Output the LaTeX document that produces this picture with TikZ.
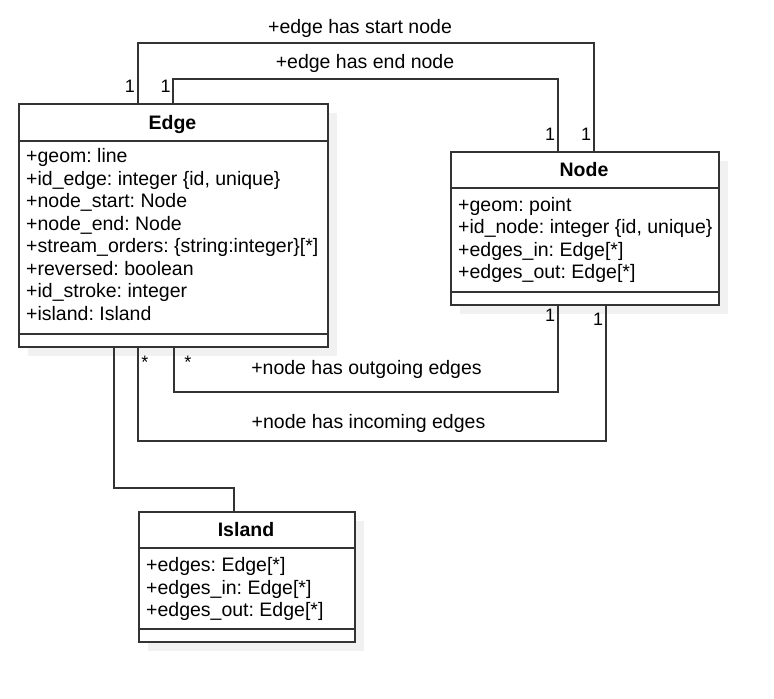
\documentclass[tikz,border=0pt]{standalone}
\usepackage{fontspec}
\setmainfont{Liberation Sans}
\definecolor{linec}{RGB}{51,51,51}
\definecolor{shadowc}{RGB}{241,241,241}
\begin{document}
\frenchspacing
\begin{tikzpicture}[x=1pt,y=-1pt,
  classbox/.style={draw=linec, line width=2pt, fill=white, rectangle, inner sep=0pt, anchor=north west},
  shadowbox/.style={fill=shadowc, draw=none, rectangle, inner sep=0pt, anchor=north west},
  conn/.style={draw=linec, line width=2pt},
  sepline/.style={draw=linec, line width=2pt},
  attr/.style={anchor=base west, inner sep=0pt, font=\fontsize{19.5}{22.5}\selectfont},
  ctitle/.style={anchor=base, inner sep=0pt, font=\fontsize{19.5}{22.5}\selectfont\bfseries},
  lbl/.style={anchor=base, inner sep=0pt, font=\fontsize{19.5}{22.5}\selectfont},
  mult/.style={anchor=base, inner sep=0pt, font=\fontsize{18}{20}\selectfont}]
\useasboundingbox (0,0) rectangle (774,699);

% shadows
\node[shadowbox, minimum width=309, minimum height=243] (edgesh) at (28,113) {};
\node[shadowbox, minimum width=268, minimum height=153] (nodesh) at (460,161) {};
\node[shadowbox, minimum width=216, minimum height=130] (islandsh) at (148,521) {};

% class boxes
\node[classbox, minimum width=309, minimum height=243] (edge) at (18,103) {};
\node[classbox, minimum width=268, minimum height=153] (node) at (450,151) {};
\node[classbox, minimum width=216, minimum height=130] (island) at (138,511) {};

% compartments
\draw[sepline] ([yshift=-38pt]edge.north west) -- ([yshift=-38pt]edge.north east);
\draw[sepline] ([yshift=14pt]edge.south west) -- ([yshift=14pt]edge.south east);
\draw[sepline] ([yshift=-37pt]node.north west) -- ([yshift=-37pt]node.north east);
\draw[sepline] ([yshift=14pt]node.south west) -- ([yshift=14pt]node.south east);
\draw[sepline] ([yshift=-37pt]island.north west) -- ([yshift=-37pt]island.north east);
\draw[sepline] ([yshift=14pt]island.south west) -- ([yshift=14pt]island.south east);

% titles
\node[ctitle] (edgetitle) at (172.5,129.3) {Edge};
\node[ctitle] (nodetitle) at (584,176.7) {Node};
\node[ctitle] (islandtitle) at (246,536.7) {Island};

% Edge attributes
\node[attr] (ea1) at (26,162.7) {+geom: line};
\node[attr] (ea2) at (26,185.2) {+id\_edge: integer \{id, unique\}};
\node[attr] (ea3) at (26,207.7) {+node\_start: Node};
\node[attr] (ea4) at (26,230.2) {+node\_end: Node};
\node[attr] (ea5) at (26,252.7) {+stream\_orders: \{string:integer\}[*]};
\node[attr] (ea6) at (26,275.2) {+reversed: boolean};
\node[attr] (ea7) at (26,297.7) {+id\_stroke: integer};
\node[attr] (ea8) at (26,320.2) {+island: Island};

% Node attributes
\node[attr] (na1) at (458,211) {+geom: point};
\node[attr] (na2) at (458,233.5) {+id\_node: integer \{id, unique\}};
\node[attr] (na3) at (458,256) {+edges\_in: Edge[*]};
\node[attr] (na4) at (458,278.5) {+edges\_out: Edge[*]};

% Island attributes
\node[attr] (ia1) at (146,571.7) {+edges: Edge[*]};
\node[attr] (ia2) at (146,594.2) {+edges\_in: Edge[*]};
\node[attr] (ia3) at (146,616.7) {+edges\_out: Edge[*]};

% connectors
\draw[conn] ([xshift=120pt]edge.north west) -- ++(0,-60) -| ([xshift=144pt]node.north west);
\draw[conn] ([xshift=155pt]edge.north west) -- ++(0,-24) -| ([xshift=108pt]node.north west);
\draw[conn] ([xshift=156pt]edge.south west) -- ++(0,44) -| ([xshift=108pt]node.south west);
\draw[conn] ([xshift=120pt]edge.south west) -- ++(0,92.5) -| ([xshift=156pt]node.south west);
\draw[conn] ([xshift=96pt]edge.south west) -- ++(0,140) -| ([xshift=96pt]island.north west);

% connector labels
\node[lbl] (lstart) at (360,33) {+edge has start node};
\node[lbl] (lend) at (365,68.5) {+edge has end node};
\node[lbl] (lout) at (366.5,374) {+node has outgoing edges};
\node[lbl] (lin) at (368.5,428) {+node has incoming edges};

% multiplicities
\node[mult] (m1) at (130,92.7) {1};
\node[mult] (m2) at (165.7,92.7) {1};
\node[mult] (m3) at (550,140) {1};
\node[mult] (m4) at (586,140) {1};
\node[mult] (m5) at (550,321.7) {1};
\node[mult] (m6) at (598,325) {1};
\node[mult] (m7) at (145,368) {*};
\node[mult] (m8) at (188,368) {*};
\end{tikzpicture}
\end{document}
